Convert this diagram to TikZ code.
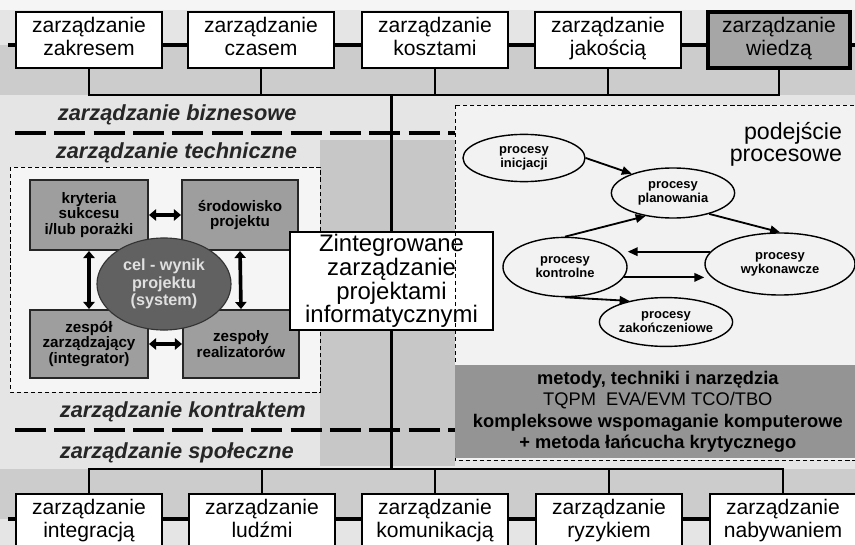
\documentclass[tikz,border=0pt]{standalone}
\usepackage{fontspec}
\setmainfont{Liberation Sans}
\usetikzlibrary{shapes.geometric, arrows.meta, positioning, calc}

\begin{document}
\begin{tikzpicture}[
  x=0.025cm, y=-0.025cm,
  area/.style={rectangle, draw, line width=1.2pt, fill=white, minimum width=3.65cm, minimum height=1.4cm, align=center, inner sep=1pt, font=\fontsize{15}{16.5}\selectfont},
  part/.style={rectangle, draw=black!85, line width=1.4pt, fill=black!38, minimum width=2.95cm, minimum height=1.75cm, align=center, font=\bfseries\fontsize{10.8}{11.2}\selectfont},
  proc/.style={ellipse, draw, line width=1pt, fill=black!5, align=center, inner sep=0pt, font=\bfseries\fontsize{9.2}{10}\selectfont},
  layer/.style={anchor=west, font=\bfseries\itshape\fontsize{15.5}{18}\selectfont, text=black!85},
  bus/.style={line width=1.6pt},
  split/.style={line width=2.2pt, dash pattern=on 22pt off 6pt},
  frame/.style={densely dashed, line width=0.7pt},
  dbl/.style={{Triangle[length=5pt,width=8pt]}-{Triangle[length=5pt,width=8pt]}, line width=2.6pt},
  flow/.style={-{Triangle[length=7pt,width=6pt]}, line width=1.3pt}
]
  % page and background
  \clip (0,0) rectangle (855,545);
  \fill[black!10] (0,0) rectangle (855,545);
  \fill[black!4] (0,0) rectangle (855,10);
  \fill[black!20] (0,45) rectangle (855,95);
  \fill[black!20] (0,469) rectangle (855,519);
  \fill[black!22] (320,140) rectangle (455,466);
  \fill[black!4] (10,167) rectangle (320,392);
  \fill[black!5] (455,105) rectangle (862,460);

  % bars behind the boxes and the dashed splits
  \draw[line width=2.2pt] (8,45) -- (855,45);
  \draw[line width=2.2pt] (8,519) -- (855,519);
  \draw[split] (15,133) -- (455,133);
  \draw[split] (15,430) -- (455,430);
  \coordinate (tbus) at (0,95);
  \coordinate (bbus) at (0,469);

  % knowledge areas, top row
  \node[area] (scope) at (89,40) {zarządzanie\\zakresem\strut};
  \node[area] (time) at (261,40) {zarządzanie\\czasem\strut};
  \node[area] (cost) at (435,40) {zarządzanie\\kosztami\strut};
  \node[area] (quality) at (608,40) {zarządzanie\\jakością\strut};
  \node[area, fill=black!35, line width=2.6pt, minimum width=3.55cm] (knowledge) at (779,40) {zarządzanie\\wiedzą\strut};

  % knowledge areas, bottom row
  \node[area] (integration) at (89,522) {zarządzanie\\integracją\strut};
  \node[area] (people) at (262,522) {zarządzanie\\ludźmi\strut};
  \node[area] (comms) at (435,522) {zarządzanie\\komunikacją\strut};
  \node[area] (risk) at (609,522) {zarządzanie\\ryzykiem\strut};
  \node[area] (procurement) at (783,522) {zarządzanie\\nabywaniem\strut};

  \draw[bus] (scope.south) -- (scope.south |- tbus) -- (knowledge.south |- tbus) -- (knowledge.south);
  \foreach \n in {time, cost, quality}
    \draw[bus] (\n.south) -- (\n.south |- tbus);
  \draw[bus] (integration.north) -- (integration.north |- bbus) -- (procurement.north |- bbus) -- (procurement.north);
  \foreach \n in {people, comms, risk}
    \draw[bus] (\n.north) -- (\n.north |- bbus);

  % technical view
  \draw[frame] (10,167) rectangle (320,392);
  \node[part] (criteria) at (89,215) {kryteria\\sukcesu\\i/lub porażki};
  \node[part, minimum width=2.9cm] (environment) at (240,215) {środowisko\\projektu};
  \node[part, minimum height=1.7cm] (management) at (89,344) {zespół\\zarządzający\\(integrator)};
  \node[part, minimum width=2.9cm, minimum height=1.7cm] (teams) at (241,344) {zespoły\\realizatorów};
  \draw[dbl] (criteria.east) -- (environment.west);
  \draw[dbl] (management.east) -- (teams.west);
  \draw[dbl] (criteria.south) -- (management.north);
  \draw[dbl] (environment.south) -- (teams.north);
  \node[ellipse, fill=black!62, draw=black!80, line width=0.8pt, minimum width=3.35cm, minimum height=2.3cm, align=center, text=black!12, font=\bfseries\fontsize{11.5}{12.5}\selectfont] (goal) at (164,284) {cel - wynik\\projektu\\(system)};

  % centre
  \node[draw, line width=2pt, fill=white, minimum width=5.075cm, minimum height=2.45cm, align=center, inner sep=0pt, font=\fontsize{17}{15.3}\selectfont] (core) at (391.5,281) {Zintegrowane\\zarządzanie\\projektami\\informatycznymi};
  \draw[bus] (core.north) -- (core.north |- tbus);
  \draw[bus] (core.south) -- (core.south |- bbus);

  % process view
  \draw[frame] (455,105) rectangle (862,460);
  \node[anchor=north east, align=right, font=\fontsize{16.5}{15.8}\selectfont] (approach) at (847,117) {podejście\\procesowe};
  \node[proc, minimum width=3.05cm, minimum height=1.18cm] (start) at (524,158) {procesy\\inicjacji};
  \node[proc, minimum width=3.08cm, minimum height=1.25cm] (plan) at (673,193) {procesy\\planowania};
  \node[proc, minimum width=3.1cm, minimum height=1.48cm] (control) at (565,267) {procesy\\kontrolne};
  \node[proc, minimum width=3.75cm, minimum height=1.55cm] (execute) at (780,264) {procesy\\wykonawcze};
  \node[proc, minimum width=3.05cm, minimum height=1.22cm] (close) at (666,322) {procesy\\zakończeniowe};
  \draw[flow] (start.east) -- (plan.155);
  \draw[flow] (control.north) -- (plan.220);
  \draw[flow] (plan.-30) -- (execute.north);
  \draw[flow] (execute.170) -- (execute.170 -| control.east);
  \draw[flow] (control.-10) -- (control.-10 -| execute.west);
  \draw[flow] (control.south) -- (close.150);

  \node[rectangle, fill=black!42, minimum width=10.125cm, minimum height=2.325cm, anchor=north west, align=center, inner sep=0pt, font=\bfseries\fontsize{13}{15.2}\selectfont] (tools) at (455,365) {metody, techniki i narzędzia\\{\mdseries TQPM\ \ EVA/EVM TCO/TBO}\\kompleksowe wspomaganie komputerowe\\+ metoda łańcucha krytycznego};

  % layers
  \node[layer] (business) at (53,115) {zarządzanie biznesowe};
  \node[layer] (technical) at (51,153) {zarządzanie techniczne};
  \node[layer] (contract) at (55,412) {zarządzanie kontraktem};
  \node[layer] (social) at (55,453) {zarządzanie społeczne};
\end{tikzpicture}
\end{document}
